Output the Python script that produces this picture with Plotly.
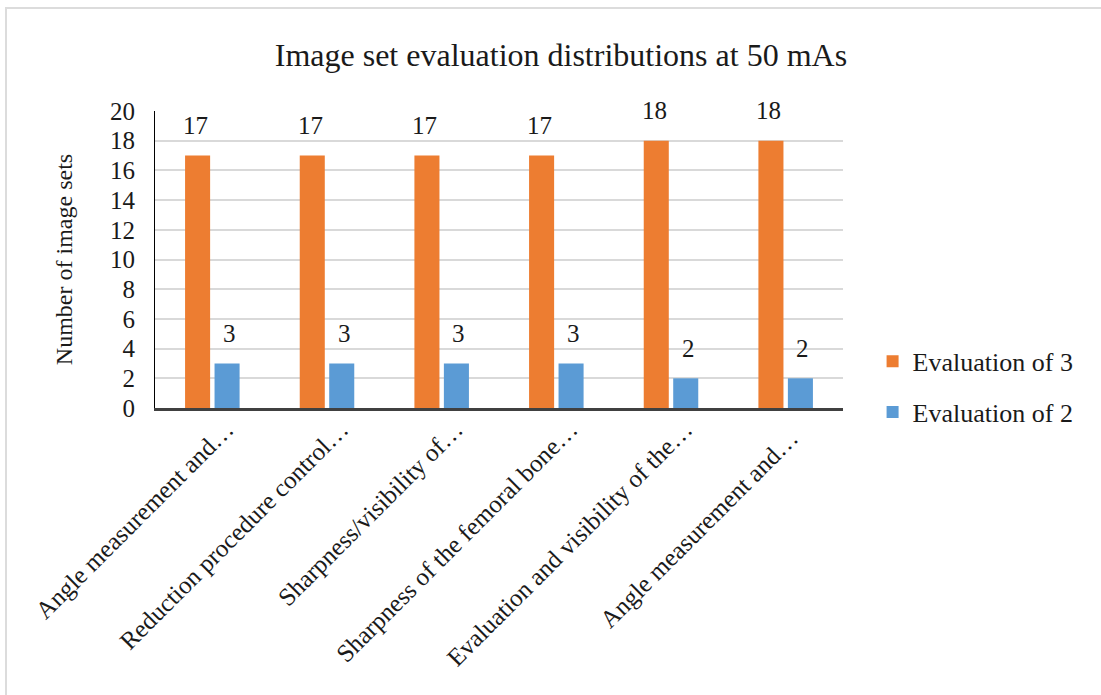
import plotly.graph_objects as go

# Evaluation criteria (labels shortened as they appear on the axis)
categories = [
    "Angle measurement and…",
    "Reduction procedure control…",
    "Sharpness/visibility of…",
    "Sharpness of the femoral bone…",
    "Evaluation and visibility of the…",
    "Angle measurement and…  ",
]
eval3_counts = [17, 17, 17, 17, 18, 18]
eval2_counts = [3, 3, 3, 3, 2, 2]
y_ticks = [0, 2, 4, 6, 8, 10, 12, 14, 16, 18, 20]

ORANGE = "#ED7D31"
BLUE = "#5B9BD5"
FONT = "Liberation Serif, Times New Roman, serif"
TEXT = "#1a1a1a"

fig = go.Figure()
fig.add_trace(go.Bar(name="Evaluation of 3", x=categories, y=eval3_counts,
                     legendgroup="e3",
                     marker=dict(color=ORANGE, line=dict(width=0))))
fig.add_trace(go.Bar(name="Evaluation of 2", x=categories, y=eval2_counts,
                     legendgroup="e2",
                     marker=dict(color=BLUE, line=dict(width=0))))

# Value labels floating above each bar
for cat, v in zip(categories, eval3_counts):
    fig.add_annotation(x=cat, y=v, text=str(v), showarrow=False, xshift=-17, yshift=30,
                       yanchor="middle", font=dict(family=FONT, size=25, color=TEXT))
for cat, v in zip(categories, eval2_counts):
    fig.add_annotation(x=cat, y=v, text=str(v), showarrow=False, xshift=17, yshift=30,
                       yanchor="middle", font=dict(family=FONT, size=25, color=TEXT))

# Frame around the whole chart (top and left edges visible)
fig.add_shape(type="rect", xref="paper", yref="paper",
              x0=-0.2166, x1=2.0, y0=-2.0, y1=1.3468,
              line=dict(color="#dcdcdc", width=2), fillcolor="rgba(0,0,0,0)", layer="below")

fig.update_layout(
    width=1101, height=695,
    margin=dict(l=155, r=258, t=111, b=287),
    paper_bgcolor="white", plot_bgcolor="white",
    barmode="group", bargap=0.486, bargroupgap=0.15,
    title=dict(text="Image set evaluation distributions at 50 mAs",
               x=0.59, xref="paper", xanchor="center", y=0.921, yanchor="middle",
               font=dict(family=FONT, size=32, color=TEXT)),
    font=dict(family=FONT, size=24, color=TEXT),
    legend=dict(x=1.043, y=0.071, xanchor="left", yanchor="middle",
                font=dict(family=FONT, size=26, color=TEXT),
                itemwidth=30, tracegroupgap=14, bgcolor="rgba(0,0,0,0)"),
    showlegend=True,
)

fig.update_yaxes(range=[0, 20], tickvals=y_ticks, showgrid=True,
                 gridcolor="#d9d9d9", gridwidth=1.5,
                 showline=True, linecolor="#000000", linewidth=1,
                 zeroline=False, ticks="", ticklabelstandoff=14,
                 tickfont=dict(family=FONT, size=25, color=TEXT),
                 title=dict(text="Number of image sets", standoff=30,
                            font=dict(family=FONT, size=24, color=TEXT)))
fig.update_xaxes(showline=True, linecolor="#404040", linewidth=2.5,
                 showgrid=False, ticks="", tickangle=-45,
                 ticklabelshift=14, ticklabelstandoff=-6,
                 tickfont=dict(family=FONT, size=25, color=TEXT))

fig.write_html("out.html")
